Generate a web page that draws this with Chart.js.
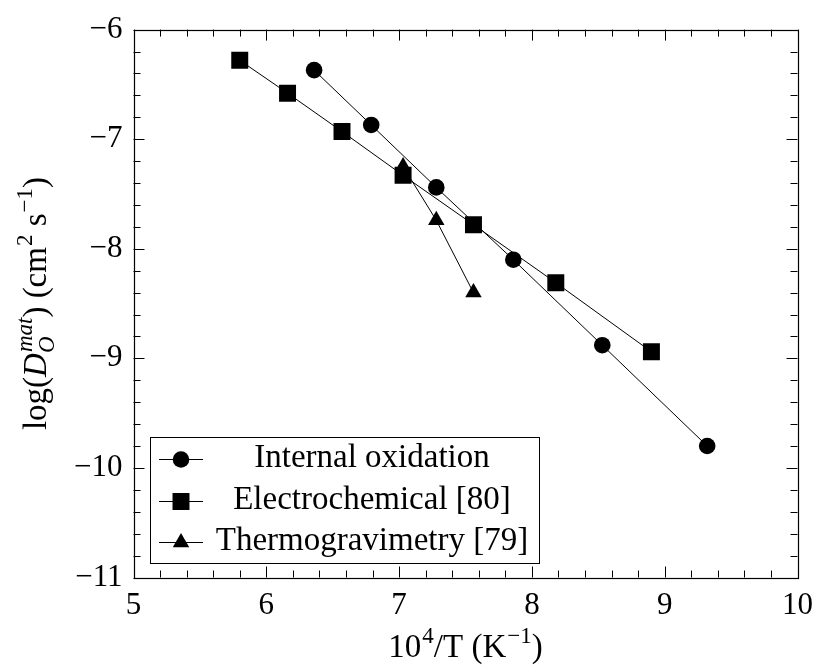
<!DOCTYPE html>
<html>
<head>
<meta charset="utf-8">
<title>Oxygen diffusivity in the matrix</title>
<script src="https://cdn.jsdelivr.net/npm/chart.js@4.4.1/dist/chart.umd.min.js"></script>
<style>
  html, body { margin: 0; padding: 0; background: #fff; }
  canvas { display: block; }
</style>
</head>
<body>
<canvas id="diffChart" width="823" height="666"></canvas>
<script>
// values: x = 10^4/T, y = log(D)
const oxidationX = [6.36, 6.79, 7.28, 7.86, 8.53, 9.32];
const oxidationY = [-6.37, -6.87, -7.44, -8.10, -8.88, -9.80];
const electroX = [5.80, 6.16, 6.57, 7.03, 7.56, 8.18, 8.90];
const electroY = [-6.28, -6.58, -6.93, -7.33, -7.78, -8.31, -8.94];
const thermoX = [7.03, 7.28, 7.56];
const thermoY = [-7.25, -7.74, -8.40];

const seriesNames = ['Internal oxidation', 'Electrochemical [80]', 'Thermogravimetry [79]'];
const seriesMarks = ['circle', 'rect', 'triangle'];
const xTicks = [5, 6, 7, 8, 9, 10];
const yTicks = [-11, -10, -9, -8, -7, -6];

const FAMILY = '"Liberation Serif", "Times New Roman", serif';
const TICK_SIZE = 31;
const TEXT_SIZE = 33;
const MARK_RADIUS = { circle: 8.3, rect: 12, triangle: 9.5 };

document.addEventListener("DOMContentLoaded", () => {
    drawChart();
});

function toPoints(xs, ys) {
    return xs.map((x, i) => ({ x: x, y: ys[i] }));
}

function minusSign(v) {
    return v < 0 ? '\u2212' + Math.abs(v) : String(v);
}

// text made of runs with italics, superscripts and subscripts
function richWidth(ctx, runs, size) {
    let w = 0;
    runs.forEach(r => {
        if (r.t !== undefined) {
            ctx.font = (r.it ? 'italic ' : '') + size + 'px ' + FAMILY;
            w += ctx.measureText(r.t).width;
        } else {
            ctx.font = (r.it ? 'italic ' : '') + Math.round(size * 0.7) + 'px ' + FAMILY;
            const a = r.sup ? ctx.measureText(r.sup).width : 0;
            const b = r.sub ? ctx.measureText(r.sub).width : 0;
            w += Math.max(a, b) + 1;
        }
    });
    return w;
}

function drawRich(ctx, runs, cx, baseline, size) {
    let x = cx - richWidth(ctx, runs, size) / 2;
    ctx.textAlign = 'left';
    ctx.textBaseline = 'alphabetic';
    ctx.fillStyle = '#000';
    runs.forEach(r => {
        if (r.t !== undefined) {
            ctx.font = (r.it ? 'italic ' : '') + size + 'px ' + FAMILY;
            ctx.fillText(r.t, x, baseline);
            x += ctx.measureText(r.t).width;
        } else {
            ctx.font = (r.it ? 'italic ' : '') + Math.round(size * 0.7) + 'px ' + FAMILY;
            let w = 0;
            if (r.sup) {
                ctx.fillText(r.sup, x + 1, baseline - size * 0.42);
                w = ctx.measureText(r.sup).width;
            }
            if (r.sub) {
                ctx.fillText(r.sub, x, baseline + size * 0.24);
                w = Math.max(w, ctx.measureText(r.sub).width);
            }
            x += w + 1;
        }
    });
}

function drawMark(ctx, style, x, y) {
    const r = MARK_RADIUS[style];
    ctx.beginPath();
    if (style === 'circle') {
        ctx.arc(x, y, r, 0, Math.PI * 2);
    } else if (style === 'rect') {
        const s = r * Math.SQRT1_2;
        ctx.rect(x - s, y - s, 2 * s, 2 * s);
    } else {
        ctx.moveTo(x, y - r);
        ctx.lineTo(x + r * Math.sin(Math.PI * 2 / 3), y + r / 2);
        ctx.lineTo(x - r * Math.sin(Math.PI * 2 / 3), y + r / 2);
        ctx.closePath();
    }
    ctx.fill();
}

// frame with inward ticks on all four sides
const frameTicks = {
    id: 'frameTicks',
    beforeDatasetsDraw(chart) {
        const { ctx, chartArea: a, scales: { x, y } } = chart;
        ctx.save();
        ctx.strokeStyle = '#000';
        ctx.lineWidth = 1;
        ctx.beginPath();
        for (let i = 0; i <= 25; i++) {
            const px = Math.round(x.getPixelForValue(x.min + i * 0.2)) + 0.5;
            const len = i % 5 === 0 ? 11 : 7;
            ctx.moveTo(px, a.bottom); ctx.lineTo(px, a.bottom - len);
            ctx.moveTo(px, a.top); ctx.lineTo(px, a.top + len);
            const py = Math.round(y.getPixelForValue(y.min + i * 0.2)) + 0.5;
            ctx.moveTo(a.left, py); ctx.lineTo(a.left + len, py);
            ctx.moveTo(a.right, py); ctx.lineTo(a.right - len, py);
        }
        ctx.stroke();
        ctx.lineWidth = 1.2;
        ctx.strokeRect(Math.round(a.left) + 0.5, Math.round(a.top) + 0.5,
            Math.round(a.right - a.left), Math.round(a.bottom - a.top));
        ctx.restore();
    }
};

// axis titles and the boxed legend
const titlesAndLegend = {
    id: 'titlesAndLegend',
    afterDraw(chart) {
        const { ctx, chartArea: a } = chart;
        ctx.save();

        drawRich(ctx, [
            { t: '10' }, { sup: '4' }, { t: '/T (K' }, { sup: '\u22121' }, { t: ')' }
        ], (a.left + a.right) / 2, 657, TEXT_SIZE);

        ctx.save();
        ctx.translate(46, (a.top + a.bottom) / 2);
        ctx.rotate(-Math.PI / 2);
        drawRich(ctx, [
            { t: 'log(' }, { t: 'D', it: true }, { sub: 'O', sup: 'mat', it: true },
            { t: ') (cm' }, { sup: '2' }, { t: ' s' }, { sup: '\u22121' }, { t: ')' }
        ], 0, 0, TEXT_SIZE);
        ctx.restore();

        // legend box
        const box = { left: 150.5, top: 437.5, right: 539.5, bottom: 563.5 };
        ctx.fillStyle = '#fff';
        ctx.fillRect(box.left, box.top, box.right - box.left, box.bottom - box.top);
        ctx.strokeStyle = '#000';
        ctx.lineWidth = 1;
        ctx.strokeRect(box.left, box.top, box.right - box.left, box.bottom - box.top);

        const rows = [459, 501, 542];
        seriesNames.forEach((name, i) => {
            const yy = rows[i] + 0.5;
            ctx.beginPath();
            ctx.moveTo(159, yy);
            ctx.lineTo(203, yy);
            ctx.stroke();
            ctx.fillStyle = '#000';
            drawMark(ctx, seriesMarks[i], 181, yy);
            ctx.font = TEXT_SIZE + 'px ' + FAMILY;
            ctx.textAlign = 'center';
            ctx.textBaseline = 'alphabetic';
            ctx.fillText(name, 372, rows[i] + 8);
        });
        ctx.restore();
    }
};

function drawChart() {
    const ctx = document.getElementById('diffChart');
    const datasets = [
        [oxidationX, oxidationY],
        [electroX, electroY],
        [thermoX, thermoY]
    ].map((s, i) => ({
        label: seriesNames[i],
        data: toPoints(s[0], s[1]),
        showLine: true,
        borderColor: '#000',
        borderWidth: 1,
        backgroundColor: '#000',
        pointStyle: seriesMarks[i],
        pointRadius: MARK_RADIUS[seriesMarks[i]],
        pointBorderWidth: 0,
        pointBackgroundColor: '#000'
    }));

    new Chart(ctx, {
        type: 'scatter',
        data: { datasets: datasets },
        options: {
            responsive: false,
            animation: false,
            layout: { padding: { top: 19, right: 16, left: 0, bottom: 0 } },
            plugins: { legend: { display: false }, tooltip: { enabled: false } },
            scales: {
                x: {
                    type: 'linear',
                    min: 5,
                    max: 10,
                    afterBuildTicks: s => { s.ticks = xTicks.map(v => ({ value: v })); },
                    afterFit: s => { s.height = 88.5; },
                    grid: { display: false, drawTicks: false },
                    border: { display: false },
                    ticks: {
                        color: '#000',
                        padding: 10,
                        maxRotation: 0,
                        font: { family: FAMILY, size: TICK_SIZE },
                        callback: v => minusSign(v)
                    }
                },
                y: {
                    type: 'linear',
                    min: -11,
                    max: -6,
                    afterBuildTicks: s => { s.ticks = yTicks.map(v => ({ value: v })); },
                    afterFit: s => { s.width = 133.5; },
                    grid: { display: false, drawTicks: false },
                    border: { display: false },
                    ticks: {
                        color: '#000',
                        padding: 11,
                        font: { family: FAMILY, size: TICK_SIZE },
                        callback: v => minusSign(v)
                    }
                }
            }
        },
        plugins: [frameTicks, titlesAndLegend]
    });
}
</script>
</body>
</html>
